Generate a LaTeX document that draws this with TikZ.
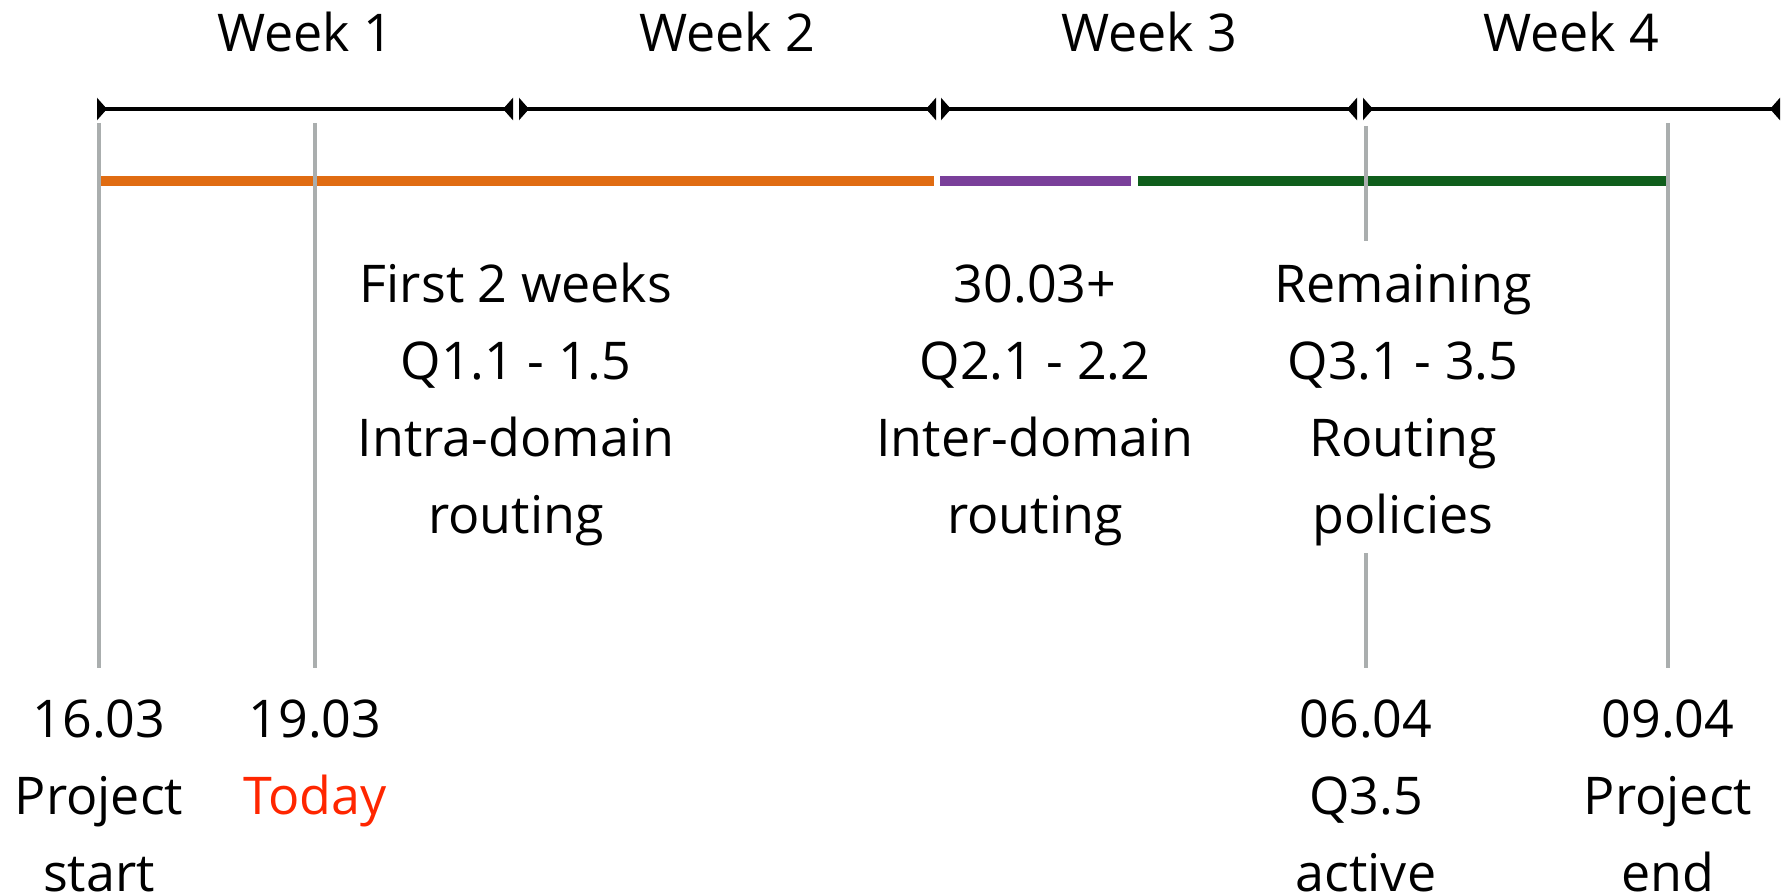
\documentclass[tikz,border=0pt]{standalone}
\usepackage{fontspec}
\setmainfont{Open Sans}
\usetikzlibrary{arrows.meta}
\definecolor{barorange}{RGB}{224,108,18}
\definecolor{barpurple}{RGB}{122,63,154}
\definecolor{bargreen}{RGB}{15,94,28}
\definecolor{tickgray}{RGB}{170,174,174}
\definecolor{todayred}{RGB}{255,38,0}
\begin{document}
\begin{tikzpicture}[x=1pt,y=-1pt,
  lbl/.style={font=\fontsize{52}{77}\selectfont, align=center, anchor=base, inner sep=0pt},
  wtip/.tip={Triangle[reversed,width=22pt,length=10pt]},
  weekarrow/.style={line width=4pt, wtip-wtip},
  bar/.style={line width=10pt},
  tick/.style={line width=3.5pt, draw=tickgray}]
\useasboundingbox (0,0) rectangle (1782,896);

% week intervals
\coordinate (w1a) at (97,109);   \coordinate (w1b) at (513,109);
\coordinate (w2a) at (519,109);  \coordinate (w2b) at (936,109);
\coordinate (w3a) at (941,109);  \coordinate (w3b) at (1357,109);
\coordinate (w4a) at (1363,109); \coordinate (w4b) at (1780,109);
\draw[weekarrow] (w1a) -- (w1b);
\draw[weekarrow] (w2a) -- (w2b);
\draw[weekarrow] (w3a) -- (w3b);
\draw[weekarrow] (w4a) -- (w4b);
\node[lbl] (wk1) at (305,52) {Week 1};
\node[lbl] (wk2) at (727,52) {Week 2};
\node[lbl] (wk3) at (1149,52) {Week 3};
\node[lbl] (wk4) at (1571,52) {Week 4};

% phase bars
\coordinate (o1) at (99,181);   \coordinate (o2) at (934,181);
\coordinate (p1) at (940,181);  \coordinate (p2) at (1131,181);
\coordinate (g1) at (1138,181); \coordinate (g2) at (1668,181);
\draw[bar, barorange] (o1) -- (o2);
\draw[bar, barpurple] (p1) -- (p2);
\draw[bar, bargreen] (g1) -- (g2);

% milestone lines
\coordinate (t1a) at (99,123);   \coordinate (t1b) at (99,668);
\coordinate (t2a) at (315,123);  \coordinate (t2b) at (315,668);
\coordinate (t3a) at (1366,126); \coordinate (t3b) at (1366,241);
\coordinate (t3c) at (1366,553); \coordinate (t3d) at (1366,668);
\coordinate (t4a) at (1668,123); \coordinate (t4b) at (1668,668);
\draw[tick] (t1a) -- (t1b);
\draw[tick] (t2a) -- (t2b);
\draw[tick] (t3a) -- (t3b);
\draw[tick] (t3c) -- (t3d);
\draw[tick] (t4a) -- (t4b);

% phase descriptions (anchor = baseline of last line)
\node[lbl] (ph1) at (516,533) {First 2 weeks\\Q1.1 - 1.5\\Intra-domain\\routing};
\node[lbl] (ph2) at (1035,533) {30.03+\\Q2.1 - 2.2\\Inter-domain\\routing};
\node[lbl] (ph3) at (1403,533) {Remaining\\Q3.1 - 3.5\\Routing\\policies};

% milestone labels
\node[lbl, text depth=0pt] (m1) at (99,891) {16.03\\Project\\start};
\node[lbl] (m2) at (315,814) {19.03\\\textcolor{todayred}{Today}};
\node[lbl, text depth=0pt] (m3) at (1366,891) {06.04\\Q3.5\\active};
\node[lbl, text depth=0pt] (m4) at (1668,891) {09.04\\Project\\end};
\end{tikzpicture}
\end{document}
